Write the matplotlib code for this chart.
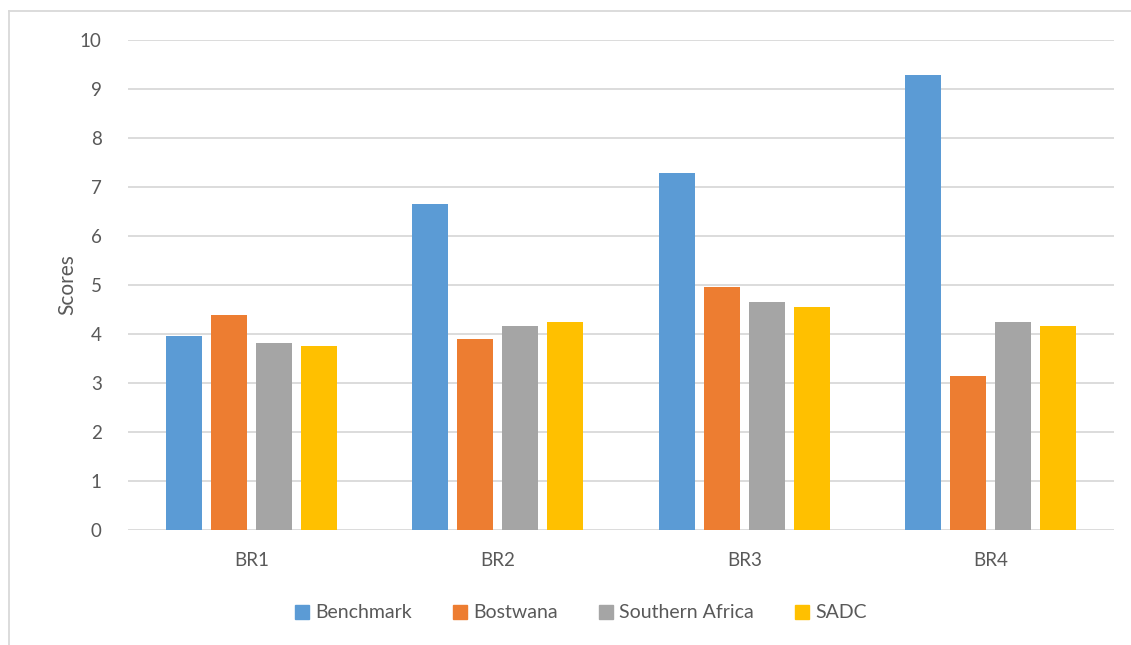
import matplotlib.pyplot as plt
import numpy as np
from matplotlib.lines import Line2D

categories = ["BR1", "BR2", "BR3", "BR4"]
series_names = ["Benchmark", "Bostwana", "Southern Africa", "SADC"]
benchmark = [3.95, 6.65, 7.28, 9.29]
bostwana = [4.38, 3.89, 4.96, 3.14]
southern_africa = [3.81, 4.17, 4.66, 4.25]
sadc = [3.76, 4.25, 4.55, 4.17]
colors = ["#5B9BD5", "#ED7D31", "#A5A5A5", "#FFC000"]
y_ticks = list(range(0, 11))

plt.rcParams['font.family'] = ['Lato', 'DejaVu Sans']
text_color = "#595959"

W, H = 1131, 645
fig = plt.figure(figsize=(W / 100, H / 100), dpi=100)
ax = fig.add_axes([128 / W, 1 - 530 / H, (1114 - 128) / W, (530 - 40) / H])

x = np.arange(len(categories))
bw = 0.146
step = 0.182
all_series = [benchmark, bostwana, southern_africa, sadc]
for i, (vals, name, c) in enumerate(zip(all_series, series_names, colors)):
    ax.bar(x + (i - 1.5) * step, vals, width=bw, color=c, label=name, zorder=3)

ax.set_xlim(-0.5, len(categories) - 0.5)
ax.set_ylim(0, 10)
ax.set_yticks(y_ticks)
ax.set_xticks(x)
ax.set_xticklabels(categories)
ax.tick_params(axis='both', length=0, labelsize=13.5, colors=text_color)
ax.tick_params(axis='y', pad=19)
ax.tick_params(axis='x', pad=16)
ax.grid(axis='y', color="#D9D9D9", linewidth=1.3, zorder=0)
for s in ax.spines.values():
    s.set_visible(False)
ax.set_ylabel("Scores", fontsize=15, color=text_color, labelpad=2)

handles = [plt.Rectangle((0, 0), 1, 1, color=c) for c in colors]
fig.legend(handles, series_names, loc='center', bbox_to_anchor=(581 / W, 1 - 613 / H),
           ncol=4, frameon=False, fontsize=14, handlelength=0.7, handleheight=0.7,
           handletextpad=0.35, columnspacing=2.1, labelcolor=text_color)

# outer chart border
fig.add_artist(Line2D([8.5 / W, 8.5 / W], [0, 1 - 11 / H], transform=fig.transFigure,
                      color="#D9D9D9", linewidth=1.3))
fig.add_artist(Line2D([8.5 / W, 1], [1 - 11 / H, 1 - 11 / H], transform=fig.transFigure,
                      color="#D9D9D9", linewidth=1.3))

fig.savefig("out.png", dpi=100)
